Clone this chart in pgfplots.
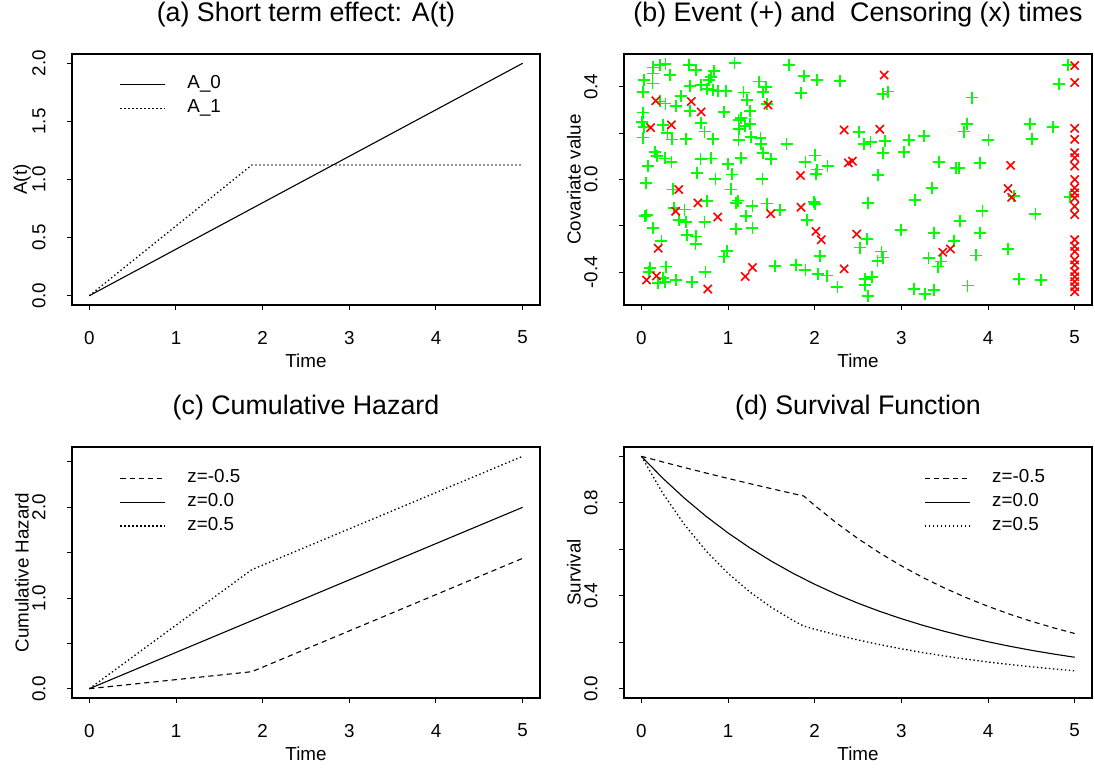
\documentclass[border=0pt]{standalone}
\usepackage{fontspec}
\setmainfont{Liberation Sans}
\usepackage{pgfplots}
\pgfplotsset{compat=1.18}

\newcommand\fs{\fontsize{9.4}{11.2}\selectfont}
\newcommand\ft{\fontsize{13.4}{16}\selectfont}

\pgfplotsset{
  rpanel/.style={
    scale only axis, width=234pt, height=125.5pt,
    anchor=south west,
    xmin=-0.2, xmax=5.2,
    xtick={0,1,2,3,4,5}, xticklabels={0,1,2,3,4,5},
    tick align=outside, xtick pos=bottom, ytick pos=left,
    major tick length=2.5pt,
    tick style={black, line width=0.5pt},
    axis line style={line width=0.6pt},
    tick label style={font=\fs},
    xticklabel style={anchor=center}, xticklabel shift=13.8pt,
    yticklabel style={rotate=90, anchor=center}, yticklabel shift=14pt,
    label style={font=\fs},
    xlabel={Time},
    xlabel style={at={(axis description cs:0.5,-0.222)}, anchor=center},
    ylabel style={at={(axis description cs:-0.107,0.5)}, anchor=center},
    title style={at={(axis description cs:0.5,1)}, anchor=center, yshift=13.6pt, font=\ft},
    legend style={draw=none, fill=none, inner sep=0pt, row sep=2.5pt, column sep=10.75pt,
      anchor=north west, font=\fs,
      nodes={inner sep=0pt, text height=7pt, text depth=2.5pt}},
    legend cell align=left,
    legend image code/.code={\draw[#1] (0pt,0pt) -- (22.5pt,0pt);},
  },
  rline/.style={black, line width=0.55pt},
  rdash/.style={black, line width=0.55pt, dash pattern=on 2.6pt off 2pt},
  rdot/.style={black, line width=0.65pt, dash pattern=on 0.7pt off 1.3pt},
}

\begin{document}
\begin{tikzpicture}
\useasboundingbox (0,0) rectangle (547.5pt,384.5pt);

% (a) short term effect
\begin{axis}[rpanel, at={(36pt,232pt)},
  title={(a) Short term effect: A(t)},
  ylabel={A(t)},
  ymin=-0.08, ymax=2.08,
  ytick={0,0.5,1,1.5,2}, yticklabels={0.0,0.5,1.0,1.5,2.0},
  legend style={at={(axis description cs:0.101,0.918)}},
]
\addplot[rline] coordinates {(0,0) (5,2)};
\addplot[rdot] coordinates {(0,0) (1.875,1.125) (5,1.125)};
\legend{A\_0,A\_1}
\end{axis}

% (b) event and censoring times
\begin{axis}[rpanel, at={(312pt,232pt)},
  title={(b) Event (+) and\ \ Censoring (x) times},
  ylabel={Covariate value},
  ymin=-0.542, ymax=0.542,
  ytick={-0.4,-0.2,0,0.2,0.4}, yticklabels={-0.4,,0.0,,0.4},
]
\addplot[only marks, mark=+, mark size=3pt, color=green, mark options={line width=0.9pt}] coordinates {
(0.137,0.484) (0.213,0.496) (0.278,0.499) (0.549,0.496) (0.633,0.473) (0.835,0.470)
(1.076,0.502) (1.706,0.494) (0.129,0.458) (0.328,0.452) (0.801,0.444) (0.778,0.429)
(1.878,0.447) (2.031,0.429) (0.030,0.429) (0.129,0.415) (0.557,0.405) (0.690,0.408)
(0.755,0.391) (0.824,0.387) (0.881,0.383) (0.977,0.383) (1.359,0.423) (1.435,0.400)
(1.179,0.376) (1.404,0.377) (1.840,0.374) (0.015,0.377) (0.461,0.361) (1.221,0.343)
(1.454,0.325) (0.213,0.337) (0.278,0.328) (0.404,0.318) (0.565,0.296) (0.950,0.291)
(1.252,0.296) (0.022,0.289) (1.148,0.267) (1.122,0.256) (1.198,0.231) (1.252,0.238)
(0.007,0.249) (0.030,0.227) (0.251,0.236) (0.690,0.244) (0.301,0.202) (0.729,0.207)
(1.129,0.217) (0.022,0.181) (0.358,0.173) (0.511,0.175) (0.824,0.175) (1.267,0.184)
(1.374,0.178) (1.122,0.169) (1.378,0.152) (1.675,0.152) (0.156,0.118) (0.183,0.100)
(0.270,0.091) (0.079,0.058) (0.347,0.076) (0.683,0.090) (0.805,0.091) (0.996,0.068)
(1.148,0.094) (1.404,0.116) (1.492,0.090) (1.893,0.075) (2.008,0.104) (2.027,0.043)
(2.015,0.024) (2.149,0.058) (0.641,0.029) (0.855,0.003) (1.046,0.022) (1.397,0.003)
(0.053,-0.014) (0.366,-0.043) (1.038,-0.043) (1.114,-0.091) (1.091,-0.101) (0.759,-0.094)
(1.282,-0.116) (1.454,-0.104) (1.599,-0.133) (0.041,-0.156) (0.060,-0.152) (0.377,-0.123)
(0.499,-0.130) (0.435,-0.174) (0.511,-0.185) (0.729,-0.185) (1.206,-0.156) (2.000,-0.106)
(1.992,-0.098) (1.912,-0.176) (0.137,-0.210) (1.091,-0.214) (1.282,-0.210) (0.232,-0.265)
(0.530,-0.239) (0.633,-0.246) (0.625,-0.279) (0.988,-0.308) (0.958,-0.333) (2.061,-0.330)
(0.099,-0.383) (0.289,-0.376) (0.091,-0.398) (0.740,-0.398) (0.251,-0.424) (0.194,-0.446)
(0.270,-0.441) (0.404,-0.434) (0.587,-0.444) (1.538,-0.372) (1.786,-0.369) (1.893,-0.391)
(2.035,-0.409) (2.142,-0.415) (2.263,-0.463)
(2.294,0.424) (2.791,0.368) (2.848,0.380) (3.814,0.354) (3.757,0.241) (3.726,0.207)
(4.482,0.238) (4.509,0.176) (4.750,0.227) (4.818,0.412) (4.921,0.496) (2.515,0.205)
(2.573,0.155) (2.645,0.163) (2.810,0.166) (3.085,0.169) (3.260,0.188) (2.791,0.116)
(3.031,0.120) (4.005,0.170) (3.432,0.076) (3.631,0.048) (3.669,0.048) (3.906,0.072)
(2.733,0.019) (3.356,-0.036) (3.153,-0.087) (2.619,-0.101) (3.936,-0.137) (3.681,-0.178)
(4.547,-0.149) (4.299,-0.072) (4.948,-0.075) (3.000,-0.217) (3.375,-0.231) (2.600,-0.256)
(2.524,-0.294) (3.909,-0.231) (3.612,-0.265) (2.771,-0.311) (2.725,-0.352) (2.791,-0.337)
(3.314,-0.340) (3.421,-0.376) (3.459,-0.354) (3.860,-0.328) (4.231,-0.299) (2.581,-0.430)
(2.657,-0.420) (2.581,-0.456) (2.611,-0.502) (3.146,-0.474) (3.275,-0.496) (3.375,-0.477)
(3.764,-0.458) (4.360,-0.431) (4.612,-0.435)
};
\addplot[only marks, mark=x, mark size=2.9pt, color=red, mark options={line width=0.8pt}] coordinates {
(0.167,0.340) (0.576,0.337) (0.690,0.292) (1.462,0.322) (0.106,0.224) (0.347,0.236)
(1.836,0.017) (0.431,-0.043) (0.652,-0.101) (0.396,-0.137) (0.881,-0.162) (1.492,-0.148)
(1.843,-0.120) (2.015,-0.224) (2.076,-0.260) (0.194,-0.297) (1.282,-0.380) (1.198,-0.419)
(0.767,-0.473) (0.060,-0.434) (0.175,-0.417)
(2.802,0.451) (2.340,0.214) (2.752,0.217) (2.389,0.072) (2.435,0.079) (4.261,0.061)
(4.231,-0.039) (4.273,-0.077) (2.485,-0.236) (3.478,-0.314) (3.566,-0.300) (2.340,-0.386)
(5,0.492) (5,0.419) (5,0.221) (5,0.173) (5,0.116) (5,0.094) (5,0.058) (5,0.000)
(5,-0.036) (5,-0.058) (5,-0.080) (5,-0.116) (5,-0.152) (5,-0.260) (5,-0.289) (5,-0.311)
(5,-0.347) (5,-0.369) (5,-0.398) (5,-0.420) (5,-0.441) (5,-0.463) (5,-0.485)
};
\end{axis}

% (c) cumulative hazard
\begin{axis}[rpanel, at={(36pt,35.5pt)},
  title={(c) Cumulative Hazard},
  ylabel={Cumulative Hazard},
  ymin=-0.1025, ymax=2.665,
  ytick={0,0.5,1,1.5,2,2.5}, yticklabels={0.0,,1.0,,2.0,},
  legend style={at={(axis description cs:0.101,0.9155)}},
]
\addplot[rdash] coordinates {(0,0) (1.875,0.1875) (5,1.4375)};
\addplot[rline] coordinates {(0,0) (5,2)};
\addplot[rdot] coordinates {(0,0) (1.875,1.3125) (5,2.5625)};
\legend{z=-0.5,z=0.0,z=0.5}
\end{axis}

% (d) survival function
\begin{axis}[rpanel, at={(312pt,35.5pt)},
  title={(d) Survival Function},
  ylabel={Survival},
  ymin=-0.04, ymax=1.04,
  ytick={0,0.2,0.4,0.6,0.8,1}, yticklabels={0.0,,0.4,,0.8,},
  legend style={at={(axis description cs:0.641,0.9155)}},
]
\addplot[rdash] coordinates {
(0,1) (0.25,0.9753) (0.5,0.9512) (0.75,0.9277) (1,0.9048) (1.25,0.8825) (1.5,0.8607)
(1.75,0.8395) (1.875,0.8290) (2,0.7886) (2.25,0.7136) (2.5,0.6457) (2.75,0.5843)
(3,0.5286) (3.25,0.4783) (3.5,0.4328) (3.75,0.3916) (4,0.3544) (4.25,0.3207)
(4.5,0.2901) (4.75,0.2626) (5,0.2375)};
\addplot[rline] coordinates {
(0,1) (0.25,0.9048) (0.5,0.8187) (0.75,0.7408) (1,0.6703) (1.25,0.6065) (1.5,0.5488)
(1.75,0.4966) (2,0.4493) (2.25,0.4066) (2.5,0.3679) (2.75,0.3329) (3,0.3012)
(3.25,0.2725) (3.5,0.2466) (3.75,0.2231) (4,0.2019) (4.25,0.1827) (4.5,0.1653)
(4.75,0.1496) (5,0.1353)};
\addplot[rdot] coordinates {
(0,1) (0.25,0.8395) (0.5,0.7047) (0.75,0.5916) (1,0.4966) (1.25,0.4169) (1.5,0.3499)
(1.75,0.2938) (1.875,0.2691) (2,0.2560) (2.25,0.2317) (2.5,0.2096) (2.75,0.1897)
(3,0.1716) (3.25,0.1553) (3.5,0.1405) (3.75,0.1271) (4,0.1150) (4.25,0.1041)
(4.5,0.0942) (4.75,0.0852) (5,0.0771)};
\legend{z=-0.5,z=0.0,z=0.5}
\end{axis}
\end{tikzpicture}
\end{document}
